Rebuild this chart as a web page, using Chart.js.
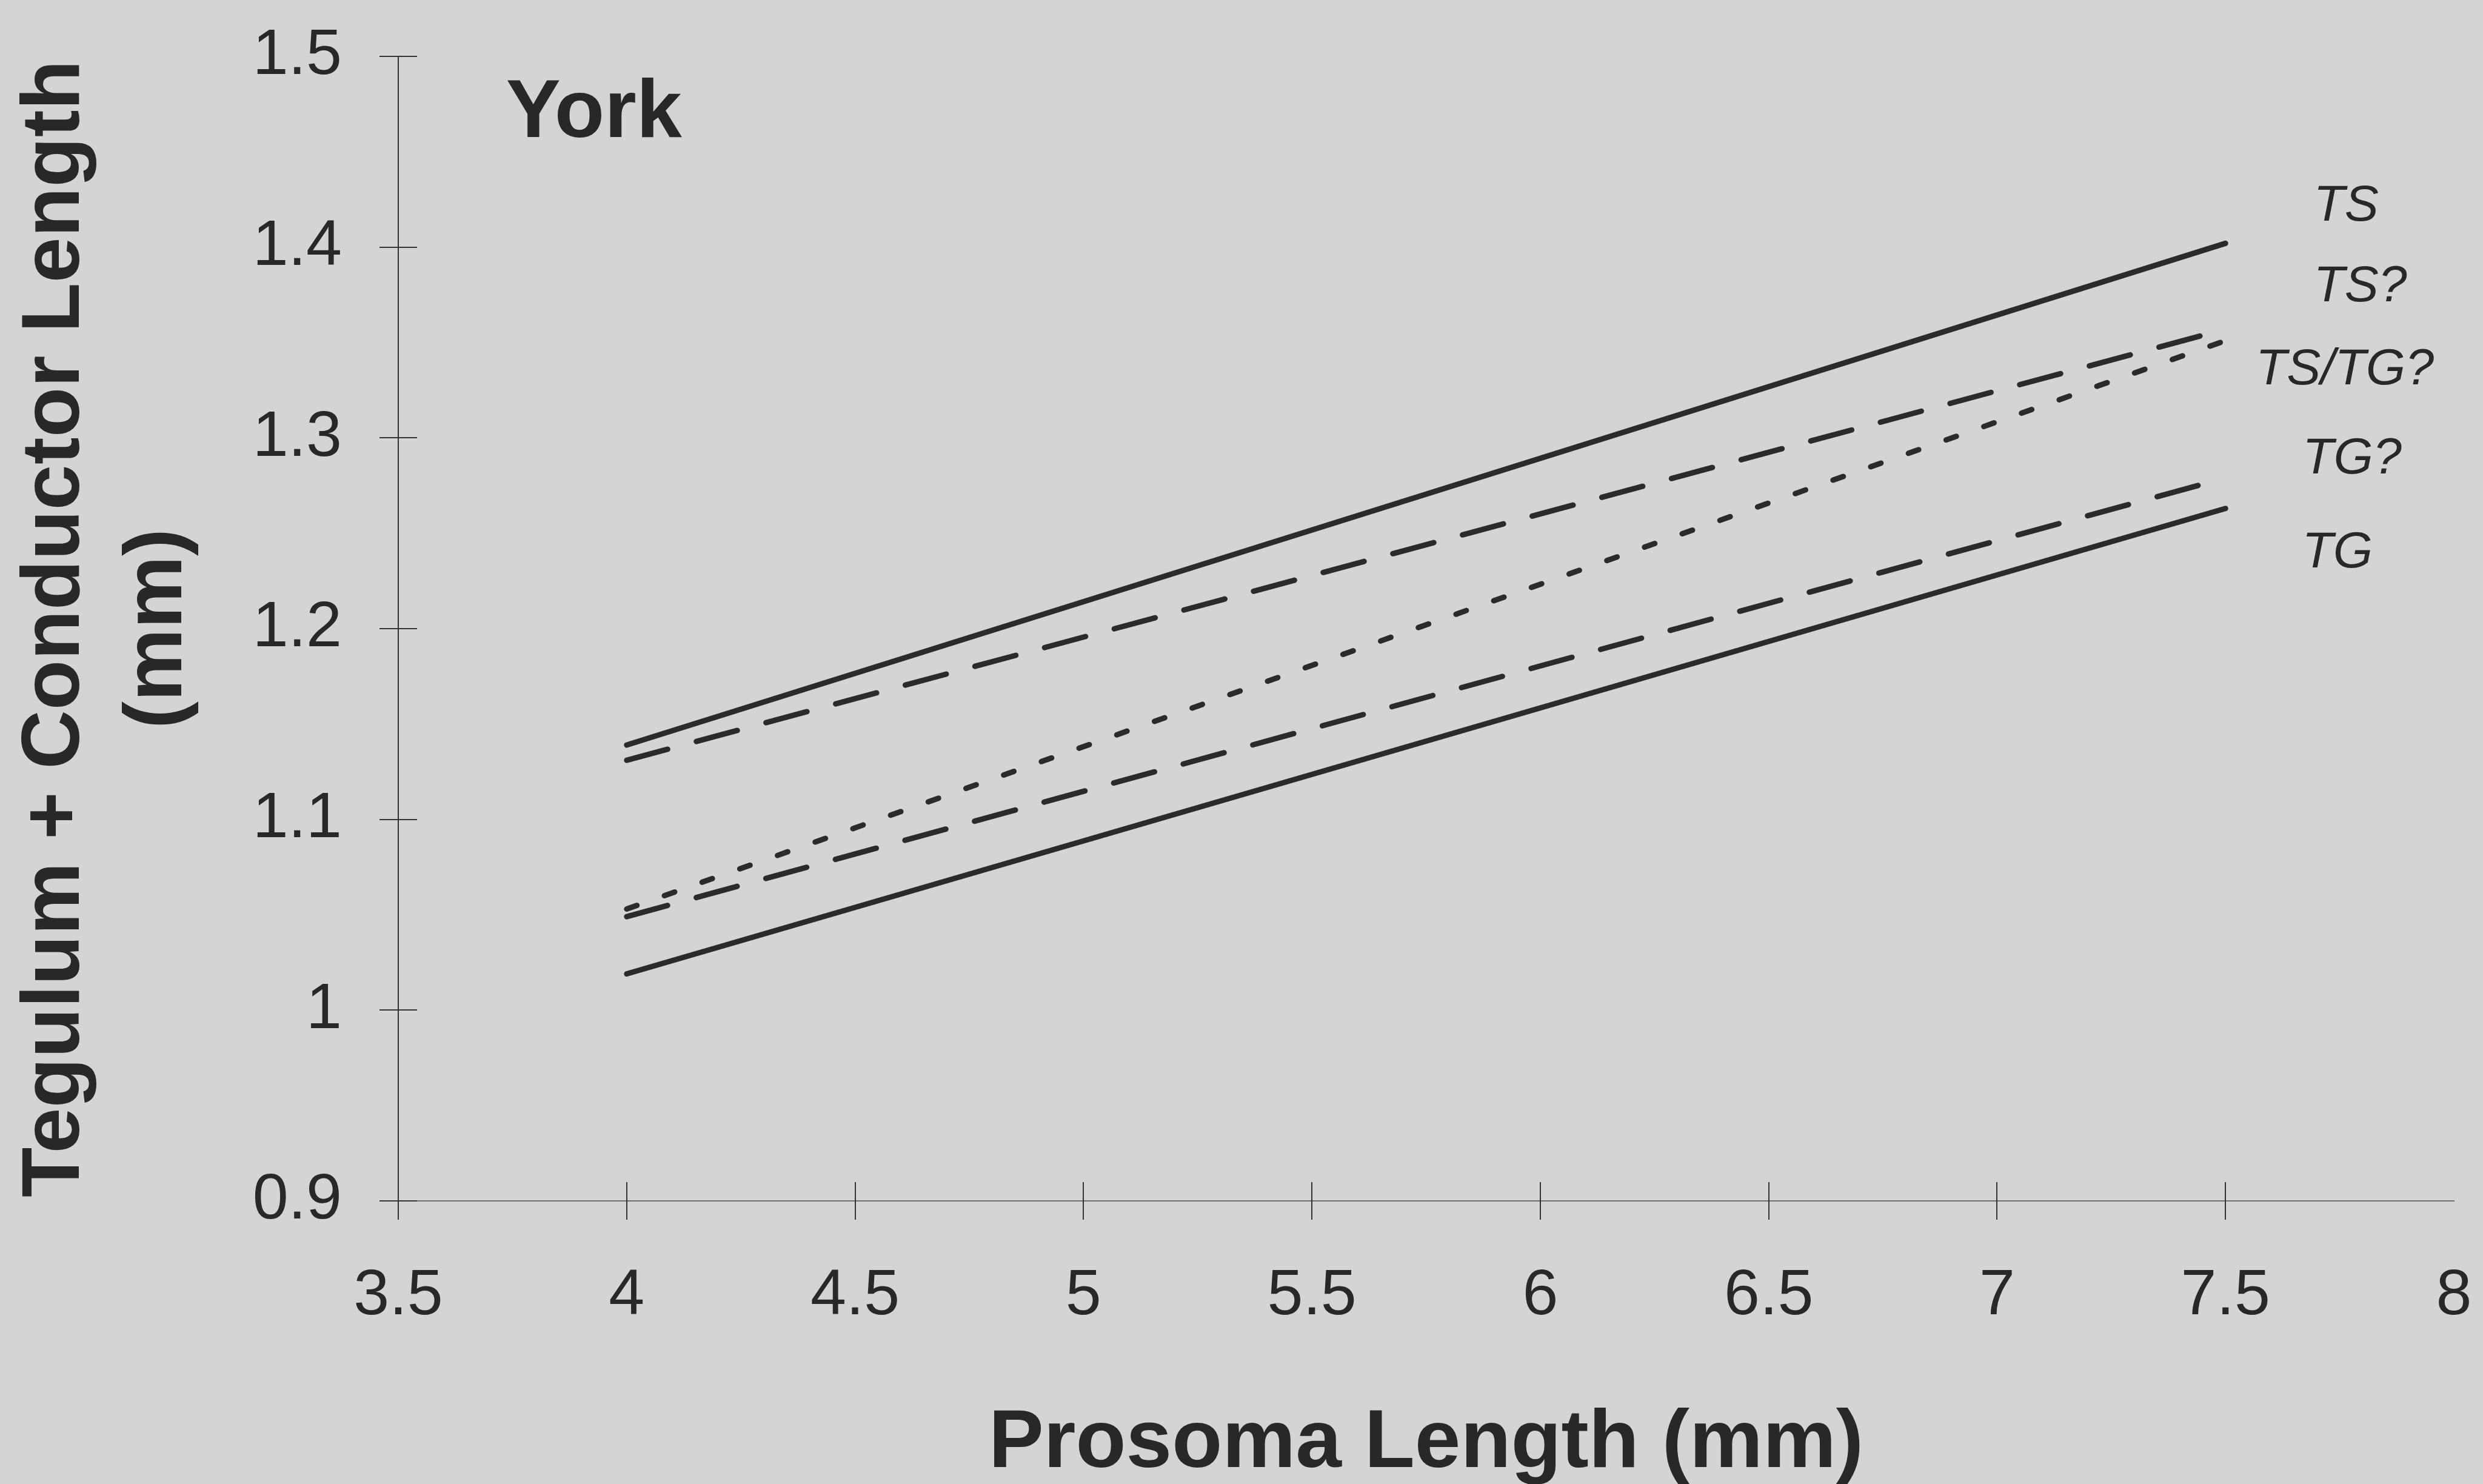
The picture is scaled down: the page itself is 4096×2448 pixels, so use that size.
<!DOCTYPE html>
<html>
<head>
<meta charset="utf-8">
<script src="https://cdn.jsdelivr.net/npm/chart.js@4.4.1/dist/chart.umd.min.js"></script>
<style>
html, body { margin: 0; padding: 0; background: #d4d4d4; overflow: hidden; }
canvas { display: block; }
</style>
</head>
<body>
<canvas id="c" width="4096" height="2448"></canvas>
<script>
// ---- data ----
const xValues = [4, 7.5];
const seriesNames = ['TS', 'TS?', 'TS/TG?', 'TG?', 'TG'];
const tsValues = [1.139, 1.402];
const tsQValues = [1.131, 1.357];
const tsTgQValues = [1.053, 1.351];
const tgQValues = [1.049, 1.279];
const tgValues = [1.019, 1.263];
const xTickLabels = ['3.5', '4', '4.5', '5', '5.5', '6', '6.5', '7', '7.5', '8'];
const yTickLabels = ['0.9', '1', '1.1', '1.2', '1.3', '1.4', '1.5'];
const panelTitle = 'York';
const xAxisTitle = 'Prosoma Length (mm)';
const yAxisTitle = ['Tegulum + Conductor Length', '(mm)'];

// ---- styling / placement ----
const FONT = '"Liberation Sans", Arial, Helvetica, sans-serif';
const INK = '#282828';
const LINE = '#2b2b2b';
const labelPlace = {
  x: [7.764, 7.795, 7.761, 7.777, 7.745],
  y: [1.414, 1.3716, 1.328, 1.2813, 1.2322]
};
const titlePlace = { x: 3.736, y: 1.4577 };
const dashes = [[], [70, 49], [18, 48], [70, 49], []];
const seriesValues = [tsValues, tsQValues, tsTgQValues, tgQValues, tgValues];

function toPoints(vals) {
  return xValues.map((xv, i) => ({ x: xv, y: vals[i] }));
}

const datasets = seriesNames.map((name, i) => ({
  label: name,
  data: toPoints(seriesValues[i]),
  borderColor: LINE,
  borderWidth: 9,
  borderDash: dashes[i],
  borderCapStyle: 'round',
  pointRadius: 0,
  fill: false,
  tension: 0
}));

const annotate = {
  id: 'annotate',
  beforeDraw(chart) {
    const ctx = chart.ctx;
    ctx.save();
    ctx.fillStyle = '#d4d4d4';
    ctx.fillRect(0, 0, chart.width, chart.height);
    ctx.restore();
  },
  afterDraw(chart) {
    const { ctx, scales: { x, y } } = chart;
    const half = 31;
    ctx.save();
    ctx.strokeStyle = '#333333';
    ctx.lineWidth = 2;
    ctx.beginPath();
    x.ticks.forEach(t => {
      if (t.value >= x.max) return;
      const px = Math.round(x.getPixelForValue(t.value));
      ctx.moveTo(px, y.bottom - half);
      ctx.lineTo(px, y.bottom + half);
    });
    y.ticks.forEach(t => {
      const py = Math.round(y.getPixelForValue(t.value));
      ctx.moveTo(x.left - half, py);
      ctx.lineTo(x.left + half, py);
    });
    ctx.stroke();

    ctx.fillStyle = INK;
    ctx.textBaseline = 'alphabetic';
    ctx.textAlign = 'left';
    ctx.font = `bold 135px ${FONT}`;
    ctx.fillText(panelTitle, x.getPixelForValue(titlePlace.x), y.getPixelForValue(titlePlace.y));

    ctx.textAlign = 'center';
    ctx.font = `italic 84px ${FONT}`;
    seriesNames.forEach((n, i) => {
      ctx.fillText(n, x.getPixelForValue(labelPlace.x[i]), y.getPixelForValue(labelPlace.y[i]));
    });
    ctx.restore();
  }
};

new Chart(document.getElementById('c'), {
  type: 'line',
  data: { datasets },
  options: {
    responsive: false,
    animation: false,
    devicePixelRatio: 1,
    layout: { padding: { top: 93, right: 48, bottom: 0, left: 0 } },
    plugins: {
      legend: { display: false },
      tooltip: { enabled: false },
      title: { display: false }
    },
    scales: {
      x: {
        type: 'linear',
        min: 3.5,
        max: 8,
        ticks: {
          stepSize: 0.5,
          autoSkip: false,
          maxRotation: 0,
          padding: 94,
          color: INK,
          font: { family: FONT, size: 106 },
          callback: (v, i) => xTickLabels[i]
        },
        grid: { display: false, drawTicks: false },
        border: { display: true, color: '#6c6c6c', width: 2 },
        title: {
          display: true,
          text: xAxisTitle,
          color: INK,
          font: { family: FONT, size: 136, weight: 'bold', lineHeight: 1.0 },
          padding: { top: 0, bottom: -2 }
        },
        afterFit: s => {
          s.height = 467;
          s.paddingLeft = 0;
          s.paddingRight = 0;
        }
      },
      y: {
        type: 'linear',
        min: 0.9,
        max: 1.5,
        ticks: {
          stepSize: 0.1,
          autoSkip: false,
          padding: 93,
          color: INK,
          font: { family: FONT, size: 106 },
          callback: (v, i) => yTickLabels[i]
        },
        grid: { display: false, drawTicks: false },
        border: { display: true, color: '#333333', width: 2 },
        title: {
          display: true,
          text: yAxisTitle,
          color: INK,
          font: { family: FONT, size: 135, weight: 'bold', lineHeight: 1.25 },
          padding: { top: 8.6, bottom: 0 }
        },
        afterFit: s => {
          s.width = 657;
          s.paddingTop = 0;
          s.paddingBottom = 0;
        }
      }
    }
  },
  plugins: [annotate]
});
</script>
</body>
</html>
